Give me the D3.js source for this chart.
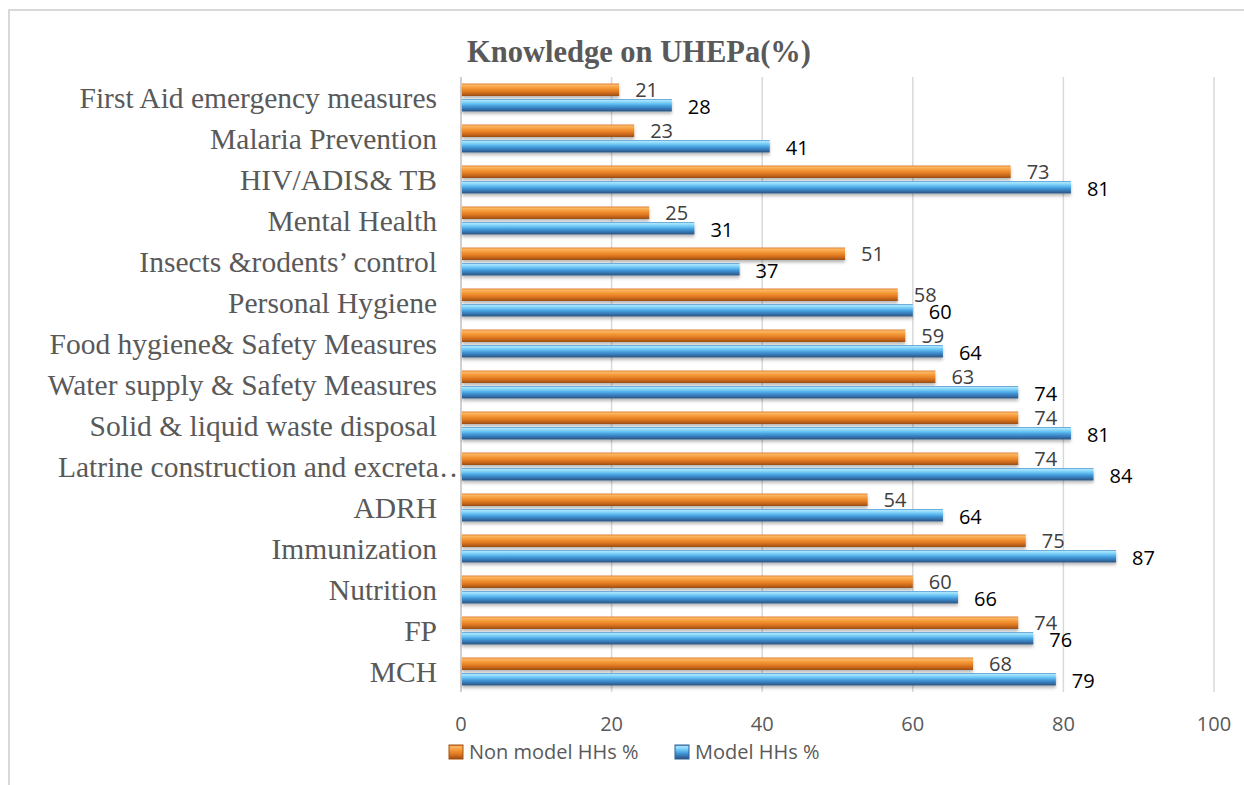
<!DOCTYPE html>
<html>
<head>
<meta charset="utf-8">
<script src="https://cdn.jsdelivr.net/npm/d3@7"></script>
<style>
  html, body { margin: 0; padding: 0; background: #fff; }
  svg { display: block; }
</style>
</head>
<body>
<div id="chart"></div>
<script>
// data, top to bottom as in the chart
var categories = ['First Aid emergency measures', 'Malaria Prevention', 'HIV/ADIS& TB', 'Mental Health',
  'Insects &rodents\u2019 control', 'Personal Hygiene ', 'Food hygiene& Safety Measures',
  'Water supply & Safety Measures', 'Solid & liquid waste disposal', 'Latrine construction and excreta\u2026',
  'ADRH', 'Immunization', 'Nutrition', 'FP', 'MCH'];
var nonModel = [21, 23, 73, 25, 51, 58, 59, 63, 74, 74, 54, 75, 60, 74, 68];
var model = [28, 41, 81, 31, 37, 60, 64, 74, 81, 84, 64, 87, 66, 76, 79];
var xTicks = [0, 20, 40, 60, 80, 100];
var seriesNames = ['Non model HHs %', 'Model HHs %'];

var width = 1244, height = 785;
var margin = {top: 77, right: 30, bottom: 93, left: 461};

var svg = d3.select('#chart').append('svg')
  .attr('width', width).attr('height', height);

var defs = svg.append('defs');
var orangeStops = [[0, '#d9731f'], [0.12, '#fcb867'], [0.35, '#f59a3a'], [0.6, '#e57f24'], [0.85, '#bd6018'], [1, '#93480f']];
var blueStops = [[0, '#4b8fc8'], [0.12, '#a8e6ff'], [0.35, '#6cc6f5'], [0.6, '#4096d6'], [0.85, '#336ba3'], [1, '#29517c']];
function grad(id, stops) {
  var g = defs.append('linearGradient').attr('id', id)
    .attr('x1', 0).attr('y1', 0).attr('x2', 0).attr('y2', 1);
  g.selectAll('stop').data(stops).enter().append('stop')
    .attr('offset', function(d) { return d[0]; })
    .attr('stop-color', function(d) { return d[1]; });
}
grad('gOrange', orangeStops);
grad('gBlue', blueStops);
var shadow = defs.append('filter').attr('id', 'shadow')
  .attr('x', '-5%').attr('y', '-30%').attr('width', '110%').attr('height', '180%');
shadow.append('feDropShadow').attr('dx', 0).attr('dy', 2.5).attr('stdDeviation', 1.6)
  .attr('flood-color', '#000').attr('flood-opacity', 0.28);

// chart frame
svg.append('path')
  .attr('d', 'M9,' + (height + 5) + 'V10H' + (width + 5))
  .attr('fill', 'none').attr('stroke', '#d9d9d9').attr('stroke-width', 2);

var x = d3.scaleLinear().domain([0, 100]).range([margin.left, width - margin.right]);
var y = d3.scaleBand().domain(categories).range([margin.top, height - margin.bottom])
  .paddingInner(0.32).paddingOuter(0.16);
var sub = d3.scaleBand().domain(seriesNames).range([0, y.bandwidth()]).paddingInner(0.2);

// gridlines
svg.append('g').selectAll('line').data(xTicks.slice(1)).enter().append('line')
  .attr('x1', function(d) { return x(d); }).attr('x2', function(d) { return x(d); })
  .attr('y1', margin.top).attr('y2', height - margin.bottom)
  .attr('stroke', '#d9d9d9').attr('stroke-width', 1.5);
svg.append('line')
  .attr('x1', x(0)).attr('x2', x(0))
  .attr('y1', margin.top).attr('y2', height - margin.bottom)
  .attr('stroke', '#d0d0d0').attr('stroke-width', 2);

// x tick labels
svg.append('g').selectAll('text').data(xTicks).enter().append('text')
  .attr('x', function(d) { return x(d); })
  .attr('y', 731)
  .attr('text-anchor', 'middle')
  .style('font-family', 'Open Sans, Liberation Sans, sans-serif')
  .style('font-size', '20px')
  .attr('fill', '#595959')
  .text(function(d) { return d; });

// category labels
svg.append('g').selectAll('text').data(categories).enter().append('text')
  .attr('x', function(d) { return d.slice(-1) === '\u2026' ? 58 : 437; })
  .attr('y', function(d) { return y(d) + y.bandwidth() / 2; })
  .attr('dy', '0.35em')
  .attr('text-anchor', function(d) { return d.slice(-1) === '\u2026' ? 'start' : 'end'; })
  .style('font-family', 'Liberation Serif, Times New Roman, serif')
  .style('font-size', '29.5px')
  .attr('fill', '#595959')
  .text(function(d) { return d; });

// bars
var series = [
  {name: seriesNames[0], values: nonModel, fill: 'url(#gOrange)', labelColor: '#404040', dy: 0},
  {name: seriesNames[1], values: model, fill: 'url(#gBlue)', labelColor: '#000', dy: 1.5}
];
series.forEach(function(s) {
  var g = svg.append('g');
  var rows = categories.map(function(c, i) { return {cat: c, v: s.values[i]}; });
  g.selectAll('rect').data(rows).enter().append('rect')
    .attr('x', x(0) + 1)
    .attr('y', function(d) { return y(d.cat) + sub(s.name); })
    .attr('width', function(d) { return x(d.v) - x(0) - 1; })
    .attr('height', sub.bandwidth())
    .attr('fill', s.fill)
    .attr('filter', 'url(#shadow)');
  g.selectAll('text').data(rows).enter().append('text')
    .attr('x', function(d) { return x(d.v) + 16; })
    .attr('y', function(d) { return y(d.cat) + sub(s.name) + sub.bandwidth() / 2 + s.dy; })
    .attr('dy', '0.36em')
    .style('font-family', 'Open Sans, Liberation Sans, sans-serif')
    .style('font-size', '20px')
    .attr('fill', s.labelColor)
    .text(function(d) { return d.v; });
});

// title
svg.append('text')
  .attr('x', 639).attr('y', 62)
  .attr('text-anchor', 'middle')
  .style('font-family', 'Liberation Serif, Times New Roman, serif')
  .style('font-size', '30.5px')
  .style('font-weight', 'bold')
  .attr('fill', '#595959')
  .text('Knowledge on UHEPa(%)');

// legend
var legendX = [449, 675];
var legend = svg.append('g').selectAll('g').data(series).enter().append('g')
  .attr('transform', function(d, i) { return 'translate(' + legendX[i] + ',745)'; });
legend.append('rect')
  .attr('width', 14).attr('height', 14)
  .attr('fill', function(d) { return d.fill; })
  .attr('stroke', function(d, i) { return i ? '#2f5f91' : '#a5520f'; })
  .attr('stroke-width', 1);
legend.append('text')
  .attr('x', 20).attr('y', 7).attr('dy', '0.36em')
  .style('font-family', 'Open Sans, Liberation Sans, sans-serif')
  .style('font-size', '20px')
  .attr('fill', '#595959')
  .text(function(d) { return d.name; });
</script>
</body>
</html>
